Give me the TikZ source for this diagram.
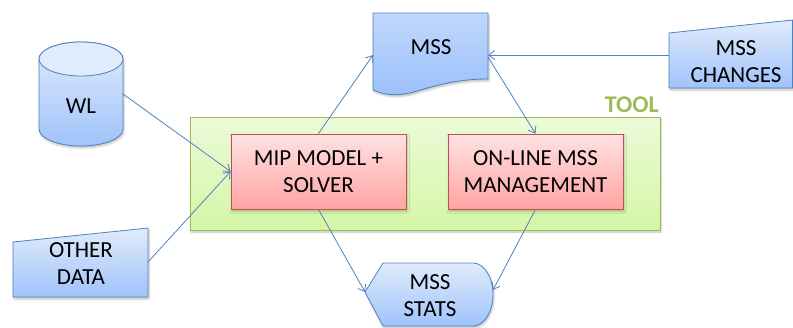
\documentclass[tikz,border=0pt]{standalone}
\usepackage{fontspec}
\setmainfont{Carlito}
\usetikzlibrary{arrows.meta,shadows.blur}
\definecolor{lineblue}{RGB}{79,129,189}
\definecolor{blueT}{RGB}{224,235,252}
\definecolor{blueB}{RGB}{160,195,250}
\definecolor{docT}{RGB}{192,215,252}
\definecolor{docB}{RGB}{155,192,250}
\definecolor{redT}{RGB}{255,226,226}
\definecolor{redB}{RGB}{255,163,163}
\definecolor{redD}{RGB}{192,80,77}
\definecolor{greenT}{RGB}{236,250,218}
\definecolor{greenB}{RGB}{212,246,165}
\definecolor{greenD}{RGB}{155,187,89}
\tikzset{
  softshadow/.style={blur shadow={shadow xshift=1pt,shadow yshift=-2pt,shadow blur radius=2pt,shadow opacity=25}},
  bluebox/.style={top color=blueT,bottom color=blueB,draw=lineblue,line width=0.8pt,softshadow},
  docbox/.style={top color=docT,bottom color=docB,draw=lineblue,line width=0.8pt,softshadow},
  redbox/.style={rectangle,top color=redT,bottom color=redB,draw=redD,line width=0.8pt,softshadow,
    minimum width=175pt,minimum height=75pt,align=center,inner sep=0pt},
  toolbox/.style={rectangle,top color=greenT,bottom color=greenB,draw=greenD,line width=0.8pt,softshadow,
    minimum width=470pt,minimum height=113pt,inner sep=0pt},
  label/.style={align=center,inner sep=0pt,font=\fontsize{23}{27}\selectfont},
  conn/.style={draw=lineblue,line width=0.8pt,-{Straight Barb[length=6pt,width=9pt,line width=0.8pt]}}
}
\begin{document}
\begin{tikzpicture}[x=1pt,y=-1pt,font=\fontsize{23}{27}\selectfont]
\useasboundingbox (0,0) rectangle (793,327);

% tool frame with its title
\node[toolbox] (tool) at (425,173.5) {};
\node[anchor=base east,inner sep=0pt,text=greenD,font=\fontsize{24}{28}\selectfont\bfseries] (tooltitle) at (659,112) {TOOL};

% processing blocks
\node[redbox] (mip) at (318.5,171.5) {MIP MODEL +\\SOLVER};
\node[redbox] (onl) at (535.5,171.5) {ON-LINE MSS\\MANAGEMENT};

% WL database cylinder
\path[bluebox] (39,59) -- (39,129) arc[start angle=180,end angle=0,x radius=42,y radius=17]
  -- (123,59) arc[start angle=0,end angle=-180,x radius=42,y radius=17] -- cycle;
\draw[lineblue,line width=0.8pt,fill=blueT] (81,59) ellipse[x radius=42,y radius=17];
\node[label] (wl) at (81,106) {WL};
\coordinate (wl-e) at (123,94);

% MSS document
\path[docbox] (373,13) -- (488,13) -- (488,79)
  .. controls (455,79) and (435,86) .. (410,93)
  .. controls (395,96) and (385,95) .. (373,90) -- cycle;
\node[label] (mss) at (431,47) {MSS};
\coordinate (mss-w) at (373,55);
\coordinate (mss-e) at (488,55);
\coordinate (mss-se) at (488,57);

% MSS CHANGES manual input
\path[bluebox] (669,33) -- (792.6,20) -- (792.6,88) -- (669,88) -- cycle;
\node[label] (chg) at (736,62) {MSS\\CHANGES};
\coordinate (chg-w) at (669,55);

% OTHER DATA manual input
\path[bluebox] (13,242) -- (148,228) -- (148,297) -- (13,297) -- cycle;
\node[label] (oth) at (81,264) {OTHER\\DATA};
\coordinate (oth-e) at (148,262);

% MSS STATS display
\path[bluebox] (365,292) -- (383,263) -- (473,263)
  arc[start angle=-90,end angle=90,x radius=20,y radius=31.5] -- (383,326) -- cycle;
\node[label] (sts) at (430,296) {MSS\\STATS};
\coordinate (sts-w) at (365,292);
\coordinate (sts-e) at (493,290);

% connectors
\draw[conn] (wl-e) -- (mip.west);
\draw[conn] (oth-e) -- (mip.west);
\draw[conn] (mip.north) -- (mss-w);
\draw[conn] (chg-w) -- (mss-e);
\draw[conn] (mss-se) -- (onl.north);
\draw[conn] (mip.south) -- (sts-w);
\draw[conn] (onl.south) -- (sts-e);
\end{tikzpicture}
\end{document}
